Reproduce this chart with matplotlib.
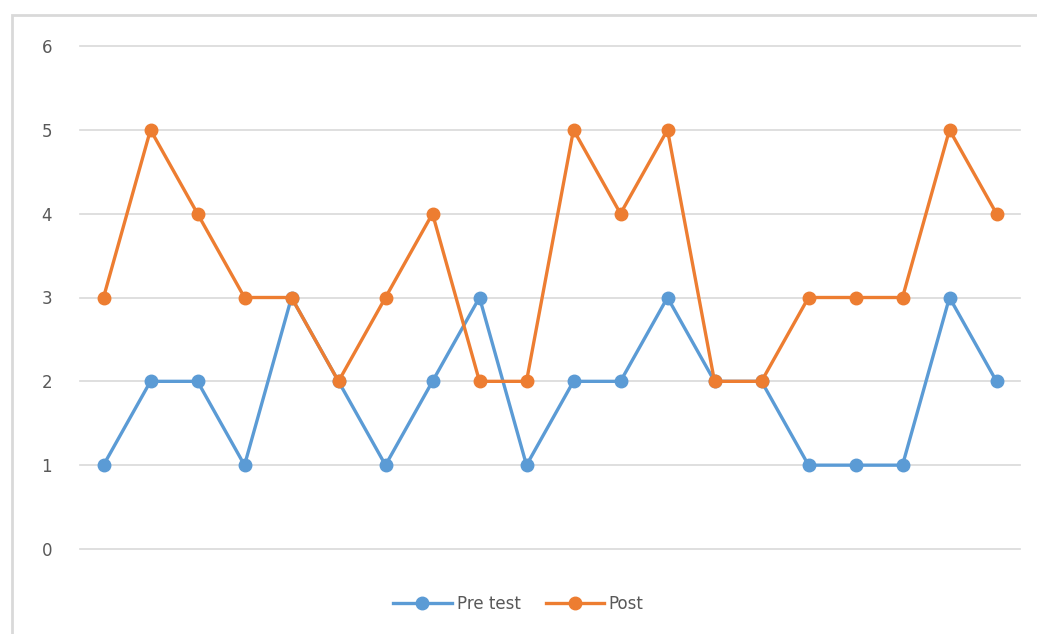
import matplotlib
matplotlib.use("Agg")
import matplotlib.pyplot as plt
from matplotlib.patches import Rectangle

categories = list(range(1, 21))
pre_test = [1, 2, 2, 1, 3, 2, 1, 2, 3, 1, 2, 2, 3, 2, 2, 1, 1, 1, 3, 2]
post = [3, 5, 4, 3, 3, 2, 3, 4, 2, 2, 5, 4, 5, 2, 2, 3, 3, 3, 5, 4]
y_ticks = [0, 1, 2, 3, 4, 5, 6]

W, H = 1037, 634
fig = plt.figure(figsize=(W / 100, H / 100), dpi=100)
fig.patches.append(Rectangle((12 / W, -0.1), 1.2, 1 - 15 / H + 0.1,
                             transform=fig.transFigure, fill=False,
                             edgecolor="#d9d9d9", linewidth=2.0))

ax = fig.add_axes([80 / W, 1 - 549 / H, (1020 - 80) / W, (549 - 46) / H])
x = list(range(len(categories)))
ax.plot(x, pre_test, color="#5B9BD5", linewidth=2.4, marker="o", markersize=9,
        label="Pre test", solid_joinstyle="round", zorder=3)
ax.plot(x, post, color="#ED7D31", linewidth=2.4, marker="o", markersize=9,
        label="Post", solid_joinstyle="round", zorder=3)

ax.set_xlim(-0.5, len(categories) - 0.5)
ax.set_ylim(0, 6)
ax.set_yticks(y_ticks)
ax.set_xticks([])
for y in y_ticks:
    ax.axhline(y, color="#d9d9d9", linewidth=1.2, zorder=1, clip_on=False)
for s in ax.spines.values():
    s.set_visible(False)
ax.tick_params(axis="y", length=0, pad=20, labelsize=12, labelcolor="#595959")

fig.legend(loc="center", bbox_to_anchor=(0.5, 1 - 604 / H), ncol=2, frameon=False,
           fontsize=12, labelcolor="#595959", handlelength=3.5, columnspacing=1.5,
           handletextpad=0.3)

fig.savefig("out.png", dpi=100)
